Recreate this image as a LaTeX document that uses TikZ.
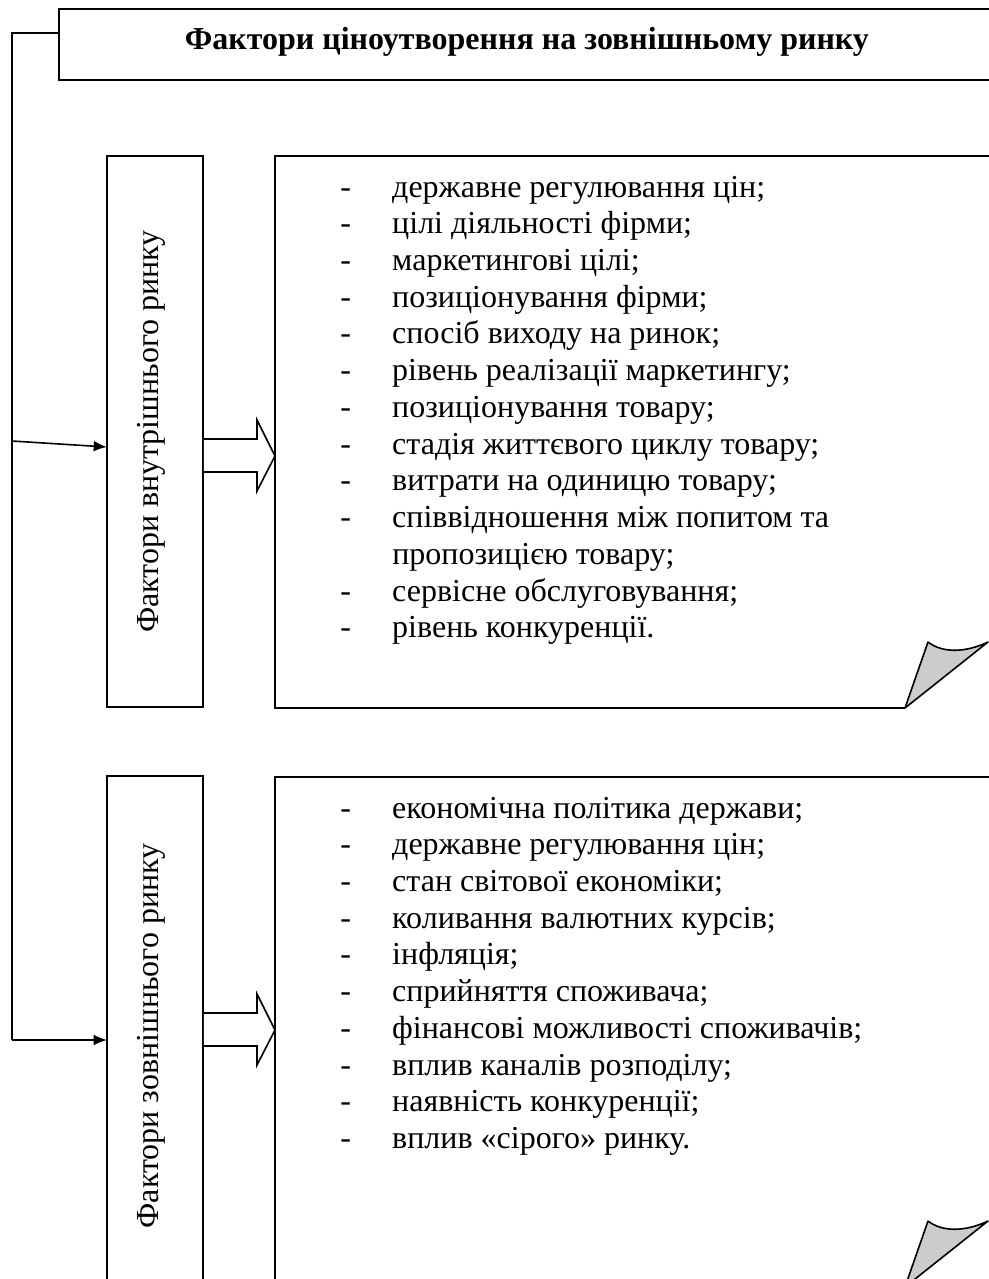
\documentclass[tikz,border=0pt]{standalone}
\usepackage{fontspec}
\setmainfont{Liberation Serif}
\usetikzlibrary{arrows.meta,calc}
\definecolor{foldgray}{RGB}{204,204,204}
\tikzset{
  line/.style={line width=1.2pt},
  plainbox/.style={draw,line width=1.2pt,inner sep=0pt,minimum width=72pt},
  sidetext/.style={rotate=90,font=\fontsize{24}{27.56}\selectfont,inner sep=0pt},
  listtext/.style={font=\fontsize{24}{27.56}\selectfont,inner sep=0pt,anchor=base west},
  titletext/.style={font=\fontsize{24}{27.56}\selectfont\bfseries,inner sep=0pt,anchor=base},
  fold/.style={draw,fill=foldgray,line width=1.2pt,line join=round},
  hollow/.style={draw,fill=white,line width=1.2pt,line join=miter},
  feed/.style={line width=1.2pt,-{Latex[length=10pt,width=8pt]}}
}
\newcommand{\itm}[1]{\makebox[39pt][l]{-}#1}
\newcommand{\cnt}[1]{\makebox[39pt][l]{}#1}
\begin{document}
\begin{tikzpicture}[x=0.75pt,y=-0.75pt]
\useasboundingbox (0,0) rectangle (989,1279);
\clip (0,0) rectangle (989,1279);

% heading
\draw[line] (59,9) rectangle (1010,80);
\node[titletext] (title) at (527,49) {Фактори ціноутворення на зовнішньому ринку};

% side boxes
\node[plainbox,minimum height=413.25pt] (lb1) at (155,431.5) {};
\node[sidetext] (v1) at (151,431.5) {Фактори внутрішнього ринку};
\node[plainbox,minimum height=385.5pt] (lb2) at (155,1033) {};
\node[sidetext] (v2) at (151,1036) {Фактори зовнішнього ринку};

% list panels with a turned-up corner
\draw[line] (905,708) -- (275,708) -- (275,156) -- (1010,156);
\draw[fold] (905,708) -- (928,642) .. controls (942,653) and (965,653) .. (988,642) -- cycle;
\draw[line] (905,1287) -- (275,1287) -- (275,777) -- (1010,777);
\draw[fold] (905,1287) -- (928,1221) .. controls (942,1232) and (965,1232) .. (988,1221) -- cycle;

\node[listtext] (list1) at (340,197) {\begin{tabular}[t]{@{}l@{}}
\itm{державне регулювання цін;}\\
\itm{цілі діяльності фірми;}\\
\itm{маркетингові цілі;}\\
\itm{позиціонування фірми;}\\
\itm{спосіб виходу на ринок;}\\
\itm{рівень реалізації маркетингу;}\\
\itm{позиціонування товару;}\\
\itm{стадія життєвого циклу товару;}\\
\itm{витрати на одиницю товару;}\\
\itm{співвідношення між попитом та}\\
\cnt{пропозицією товару;}\\
\itm{сервісне обслуговування;}\\
\itm{рівень конкуренції.}
\end{tabular}};

\node[listtext] (list2) at (340,818) {\begin{tabular}[t]{@{}l@{}}
\itm{економічна політика держави;}\\
\itm{державне регулювання цін;}\\
\itm{стан світової економіки;}\\
\itm{коливання валютних курсів;}\\
\itm{інфляція;}\\
\itm{сприйняття споживача;}\\
\itm{фінансові можливості споживачів;}\\
\itm{вплив каналів розподілу;}\\
\itm{наявність конкуренції;}\\
\itm{вплив «сірого» ринку.}
\end{tabular}};

% hollow arrows from side boxes to panels
\draw[hollow] (lb1.east |- 0,439) -- (257,439) -- (257,420) -- (275,456)
  -- (257,491) -- (257,472) -- (lb1.east |- 0,472);
\draw[hollow] (lb2.east |- 0,1013) -- (257,1013) -- (257,994) -- (275,1030)
  -- (257,1065) -- (257,1046) -- (lb2.east |- 0,1046);

% feed line from the heading
\coordinate (t0) at (59,33);
\coordinate (c1) at (12,33);
\coordinate (c2) at (12,441);
\coordinate (c3) at (12,1040);
\coordinate (e1) at (107,447);
\coordinate (e2) at (107,1040);
\draw[line] (t0) -- (c1) -- (c3);
\draw[feed] (c2) -- (e1);
\draw[feed] (c3) -- (e2);
\end{tikzpicture}
\end{document}
